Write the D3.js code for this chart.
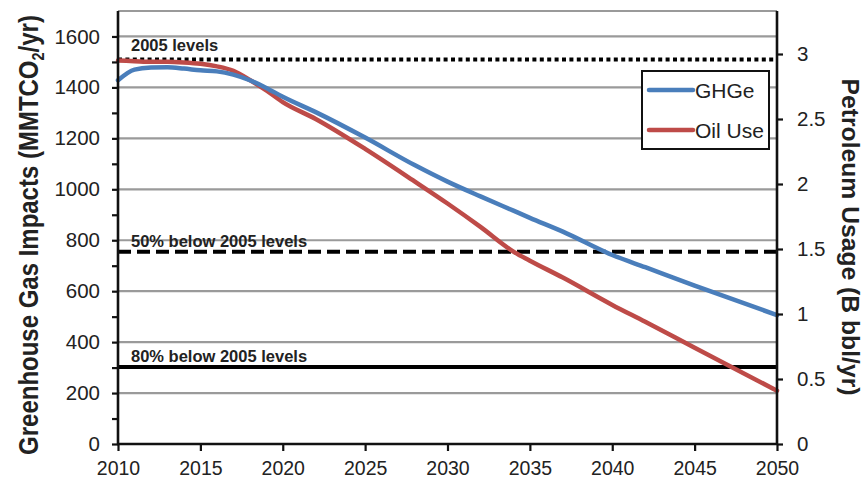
<!DOCTYPE html>
<html>
<head>
<meta charset="utf-8">
<script src="https://cdn.jsdelivr.net/npm/d3@7"></script>
<style>
  body { margin: 0; background: #fff; }
  svg { font-family: "Liberation Sans", Arial, sans-serif; }
</style>
</head>
<body>
<div id="chart"></div>
<script>
// chart data
var years = [2010, 2011, 2012, 2013, 2014, 2015, 2016, 2017, 2018, 2019, 2020, 2022, 2025, 2028, 2030, 2032, 2034, 2035, 2037, 2040, 2042, 2045, 2050];
var ghge  = [1428, 1470, 1478, 1479, 1474, 1467, 1463, 1450, 1428, 1398, 1363, 1303, 1203, 1095, 1030, 972, 916, 888, 834, 742, 694, 622, 506];
var oilUse = [2.95, 2.945, 2.94, 2.94, 2.935, 2.925, 2.905, 2.87, 2.80, 2.72, 2.63, 2.50, 2.27, 2.02, 1.85, 1.67, 1.48, 1.41, 1.28, 1.07, 0.94, 0.74, 0.41];

var levelValues = [1510, 755, 302];
var levelLabels = ["2005 levels", "50% below 2005 levels", "80% below 2005 levels"];

var leftTicks = [0, 200, 400, 600, 800, 1000, 1200, 1400, 1600];
var gridValues = [200, 400, 600, 800, 1000, 1200, 1400, 1600, 1700];
var rightTicks = [0, 0.5, 1, 1.5, 2, 2.5, 3];
var xTicks = [2010, 2015, 2020, 2025, 2030, 2035, 2040, 2045, 2050];
var seriesNames = ["GHGe", "Oil Use"];

var width = 862, height = 480;
var plotLeft = 118, plotRight = 777, plotTop = 11, plotBottom = 444;

var blue = "#4a7ebb", red = "#be4b48";
var levelDash = ["4,3.4", "13,6", null];
var levelLabelGap = [8, 5, 5];

var svg = d3.select("#chart").append("svg")
    .attr("width", width)
    .attr("height", height);

var x = d3.scaleLinear().domain([2010, 2050]).range([plotLeft, plotRight]);
var y = d3.scaleLinear().domain([0, 1700]).range([plotBottom, plotTop]);
// right axis: 130px per billion barrels
var y2 = d3.scaleLinear().domain([0, (plotBottom - plotTop) / 130]).range([plotBottom, plotTop]);

// gridlines
svg.append("g")
    .selectAll("line")
    .data(gridValues)
    .enter().append("line")
    .attr("x1", plotLeft).attr("x2", plotRight)
    .attr("y1", function(d) { return y(d); })
    .attr("y2", function(d) { return y(d); })
    .style("stroke", "#9a9a9a")
    .style("stroke-width", 2.2);

// reference levels
svg.append("g")
    .selectAll("line")
    .data(levelValues)
    .enter().append("line")
    .attr("x1", plotLeft).attr("x2", plotRight)
    .attr("y1", function(d) { return y(d); })
    .attr("y2", function(d) { return y(d); })
    .style("stroke", "#000")
    .style("stroke-width", 4)
    .style("stroke-dasharray", function(d, i) { return levelDash[i]; });

svg.append("g")
    .selectAll("text")
    .data(levelValues)
    .enter().append("text")
    .attr("x", 131)
    .attr("y", function(d, i) { return y(d) - levelLabelGap[i]; })
    .style("font-size", "16.5px")
    .style("font-weight", "bold")
    .style("fill", "#222")
    .text(function(d, i) { return levelLabels[i]; });

// series
var ghgLine = d3.line()
    .x(function(d, i) { return x(years[i]); })
    .y(function(d) { return y(d); })
    .curve(d3.curveMonotoneX);

var oilLine = d3.line()
    .x(function(d, i) { return x(years[i]); })
    .y(function(d) { return y2(d); })
    .curve(d3.curveMonotoneX);

svg.append("path")
    .attr("d", oilLine(oilUse))
    .style("fill", "none")
    .style("stroke", red)
    .style("stroke-width", 4.5)
    .style("stroke-linecap", "round");

svg.append("path")
    .attr("d", ghgLine(ghge))
    .style("fill", "none")
    .style("stroke", blue)
    .style("stroke-width", 4.5)
    .style("stroke-linecap", "round");

// axes
var yAxis = d3.axisLeft(y)
    .tickValues(d3.range(0, 1601, 100))
    .tickSize(6)
    .tickPadding(12)
    .tickFormat(function(d) { return leftTicks.indexOf(d) >= 0 ? d : ""; });

var y2Axis = d3.axisRight(y2)
    .tickValues(rightTicks)
    .tickSize(6)
    .tickPadding(14)
    .tickFormat(function(d) { return String(d); });

var xAxis = d3.axisBottom(x)
    .tickValues(xTicks)
    .tickSize(7)
    .tickPadding(10)
    .tickFormat(d3.format("d"));

function styleAxis(g, size) {
    g.select(".domain").remove();
    g.selectAll(".tick line").style("stroke", "#111").style("stroke-width", 2.2);
    g.selectAll(".tick text")
        .style("font-family", "'Liberation Sans', Arial, sans-serif")
        .style("font-size", size)
        .style("fill", "#222");
}

svg.append("g").attr("transform", "translate(" + plotLeft + ",0)").call(yAxis).call(styleAxis, "20.5px");
svg.append("g").attr("transform", "translate(" + plotRight + ",0)").call(y2Axis).call(styleAxis, "20.5px");
svg.append("g").attr("transform", "translate(0," + plotBottom + ")").call(xAxis).call(styleAxis, "19.5px");

// axis lines
svg.append("line").attr("x1", plotLeft).attr("x2", plotLeft).attr("y1", plotTop).attr("y2", plotBottom + 1)
    .style("stroke", "#111").style("stroke-width", 2.6);
svg.append("line").attr("x1", plotRight).attr("x2", plotRight).attr("y1", plotTop).attr("y2", plotBottom + 1)
    .style("stroke", "#111").style("stroke-width", 2.6);
svg.append("line").attr("x1", plotLeft - 1).attr("x2", plotRight + 1).attr("y1", plotBottom).attr("y2", plotBottom)
    .style("stroke", "#111").style("stroke-width", 2.6);

// axis titles: condensed bold, squeezed to the length seen in the original
function fitTitle(t, cx, cy, angle, len) {
    var w = t.node().getComputedTextLength();
    t.attr("transform", "translate(" + cx + "," + cy + ") rotate(" + angle + ") scale(" + (len / w) + ",1)");
}

var lt = svg.append("text")
    .attr("text-anchor", "middle")
    .style("font-size", "28px")
    .style("font-weight", "bold")
    .style("fill", "#222");
lt.append("tspan").text("Greenhouse Gas Impacts (MMTCO");
lt.append("tspan").attr("dy", 6).style("font-size", "17px").text("2");
lt.append("tspan").attr("dy", -6).text("/yr)");
fitTitle(lt, 38, 235, -90, 440);

var rt = svg.append("text")
    .attr("text-anchor", "middle")
    .style("font-size", "23px")
    .style("font-weight", "bold")
    .style("fill", "#222")
    .text("Petroleum Usage (B bbl/yr)");
fitTitle(rt, 842, 237, 90, 317);

// legend
var legend = svg.append("g").attr("transform", "translate(642,71)");
legend.append("rect")
    .attr("width", 127).attr("height", 78)
    .style("fill", "#fff")
    .style("stroke", "#111")
    .style("stroke-width", 2);

var items = legend.selectAll(".item")
    .data(seriesNames)
    .enter().append("g")
    .attr("class", "item")
    .attr("transform", function(d, i) { return "translate(0," + (19 + i * 40) + ")"; });

items.append("line")
    .attr("x1", 7).attr("x2", 51)
    .style("stroke", function(d, i) { return i === 0 ? blue : red; })
    .style("stroke-width", 4.5)
    .style("stroke-linecap", "round");

items.append("text")
    .attr("x", 53)
    .attr("dy", "0.36em")
    .style("font-size", "21px")
    .style("fill", "#222")
    .text(function(d) { return d; });
</script>
</body>
</html>
